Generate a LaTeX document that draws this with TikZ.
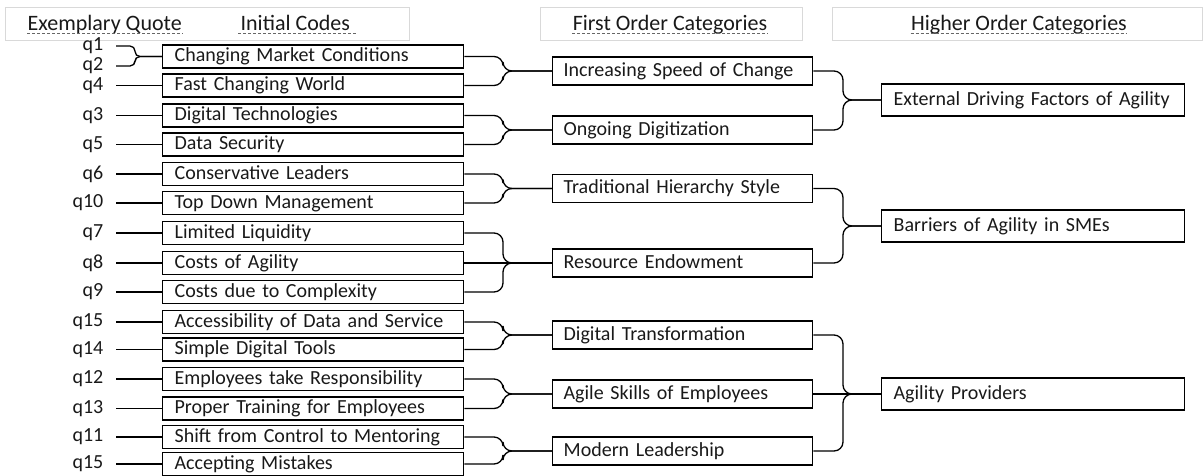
\documentclass[tikz,border=0pt]{standalone}
\usepackage{fontspec}
\setmainfont{Carlito}
\usetikzlibrary{calc}

\begin{document}
\begin{tikzpicture}[x=1pt, y=-1pt, line width=1.3pt,
  every node/.style={font=\fontsize{20}{24}\selectfont, text=black!90},
  headbox/.style={draw=black!15, line width=0.6pt},
  head/.style={inner sep=0pt, text depth=0pt, font=\fontsize{22}{26}\selectfont},
  squiggle/.style={draw=black!60, line width=0.8pt, dash pattern=on 3pt off 2pt},
  code/.style={draw, anchor=west, text width=277pt, inner xsep=12pt, inner ysep=1.75pt, text height=15pt, text depth=4.5pt, align=left},
  first/.style={draw, anchor=west, text width=238pt, inner xsep=11pt, inner ysep=4.25pt, text height=15pt, text depth=4.5pt, align=left},
  higher/.style={draw, anchor=west, text width=279pt, inner xsep=12pt, inner ysep=6.25pt, text height=15pt, text depth=4.5pt, align=left},
  qlabel/.style={anchor=east, inner xsep=12pt, inner ysep=0pt},
  brace/.style={rounded corners=9pt}]
\useasboundingbox (0,0) rectangle (1203,475);

% column headers
\draw[headbox] (5,7) rectangle (409,40);
\draw[headbox] (540,7) rectangle (802,40);
\draw[headbox] (832,7) rectangle (1202,40);
\node[head, anchor=base west] (hq) at (27,30) {Exemplary Quote};
\node[head, anchor=base west] (hc) at (240,30) {Initial Codes};
\node[head, anchor=base] (hf) at (670,30) {First Order Categories};
\node[head, anchor=base] (hh) at (1019,30) {Higher Order Categories};
\draw[squiggle] ([yshift=-3pt]hq.base west) -- ([yshift=-3pt]hq.base east);
\draw[squiggle] ([shift={(-2pt,-3pt)}]hc.base west) -- ([shift={(6pt,-3pt)}]hc.base east);
\draw[squiggle] ([yshift=-3pt]hf.base west) -- ([yshift=-3pt]hf.base east);
\draw[squiggle] ([yshift=-3pt]hh.base west) -- ([yshift=-3pt]hh.base east);

% initial codes with quotes
\node[code] (c1) at (162,56.5) {Changing Market Conditions};
\foreach \i/\y/\q/\txt in {2/85.5/q4/Fast Changing World, 3/115.5/q3/Digital Technologies,
  4/144.5/q5/Data Security, 5/174/q6/Conservative Leaders, 6/203/q10/Top Down Management,
  7/233/q7/Limited Liquidity, 8/263/q8/Costs of Agility, 9/292/q9/Costs due to Complexity,
  10/322/q15/Accessibility of Data and Service, 11/349.5/q14/Simple Digital Tools,
  12/379/q12/Employees take Responsibility, 13/408.5/q13/Proper Training for Employees,
  14/437/q11/Shift from Control to Mentoring, 15/464/q15/Accepting Mistakes}
{
  \node[code] (c\i) at (162,\y) {\txt};
  \node[qlabel] (ql\i) at (116,\y) {\q};
  \draw (ql\i) -- (c\i);
}
\node[qlabel] (qa) at (116,46) {q1};
\node[qlabel] (qb) at (116,66) {q2};
\foreach \s in {qa,qb}
  \draw[brace, rounded corners=5pt] (\s.east) -| ($(c1.west)+(-27,0)$) -- (c1.west);

% first order categories
\foreach \i/\y/\txt in {1/71/Increasing Speed of Change, 2/130/Ongoing Digitization,
  3/188.5/Traditional Hierarchy Style, 4/263/Resource Endowment, 5/335/Digital Transformation,
  6/394/Agile Skills of Employees, 7/451/Modern Leadership}
  \node[first] (f\i) at (552,\y) {\txt};

% higher order categories
\foreach \i/\y/\txt in {1/100/External Driving Factors of Agility, 2/226/Barriers of Agility in SMEs,
  3/394/Agility Providers}
  \node[higher] (h\i) at (881,\y) {\txt};

% braces
\foreach \s/\t in {c1/f1,c2/f1,c3/f2,c4/f2,c5/f3,c6/f3,c7/f4,c9/f4,c10/f5,c11/f5,c12/f6,c13/f6,c14/f7,c15/f7}
  \draw[brace] (\s.east) -| ($(\t.west)+(-49,0)$) -- (\t.west);
\draw (c8) -- (f4);
\foreach \s/\t in {f1/h1,f2/h1,f3/h2,f4/h2,f5/h3,f7/h3}
  \draw[brace] (\s.east) -| ($(\t.west)+(-38,0)$) -- (\t.west);
\draw (f6) -- (h3);
\end{tikzpicture}
\end{document}
